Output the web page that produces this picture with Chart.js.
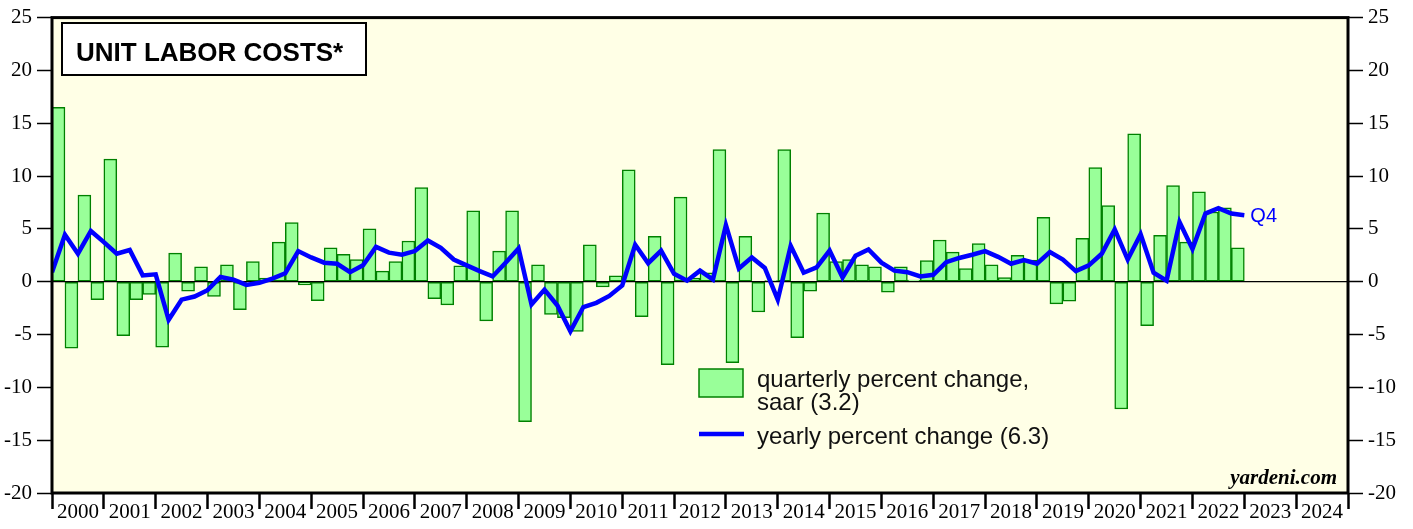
<!DOCTYPE html>
<html>
<head>
<meta charset="utf-8">
<script src="https://cdn.jsdelivr.net/npm/chart.js@4"></script>
<style>
  html, body { margin: 0; padding: 0; background: #fff; }
  #wrap { width: 1413px; height: 529px; }
</style>
</head>
<body>
<div id="wrap"><canvas id="ulc" width="1413" height="529"></canvas></div>
<script>
// year labels on the bottom axis (each year = 4 quarters)
const years = ['2000','2001','2002','2003','2004','2005','2006','2007','2008','2009','2010','2011','2012',
  '2013','2014','2015','2016','2017','2018','2019','2020','2021','2022','2023','2024'];

// quarterly percent change, saar: 2000Q1 .. 2022Q4
const quarterly = [
  16.5, -6.3, 8.2, -1.7,
  11.6, -5.1, -1.7, -1.2,
  -6.2, 2.7, -0.9, 1.4,
  -1.4, 1.6, -2.65, 1.9,
  0.35, 3.75, 5.6, -0.3,
  -1.8, 3.2, 2.6, 2.1,
  5.0, 1.0, 1.9, 3.85,
  8.9, -1.6, -2.2, 1.5,
  6.7, -3.7, 2.9, 6.7,
  -13.25, 1.6, -3.1, -3.4,
  -4.7, 3.5, -0.5, 0.55,
  10.6, -3.3, 4.3, -7.85,
  8.0, 0.35, 0.85, 12.5,
  -7.67, 4.3, -2.87, 0.1,
  12.5, -5.3, -0.9, 6.5,
  1.9, 2.1, 1.6, 1.4,
  -1.0, 1.4, 0.15, 2.0,
  3.95, 2.8, 1.25, 3.6,
  1.6, 0.4, 2.5, 2.05,
  6.1, -2.1, -1.85, 4.1,
  10.8, 7.2, -12.05, 14.0,
  -4.15, 4.4, 9.1, 3.75,
  8.5, 6.6, 7.0, 3.2
];

// yearly percent change, plotted at quarter ends: 1999Q4 .. 2022Q4
const yearly = [
  0.9,
  4.45, 2.65, 4.8, 3.75,
  2.65, 3.0, 0.6, 0.7,
  -3.6, -1.7, -1.4, -0.8,
  0.45, 0.2, -0.3, -0.1,
  0.3, 0.8, 2.9, 2.3,
  1.8, 1.7, 0.9, 1.55,
  3.3, 2.75, 2.55, 2.9,
  3.9, 3.2, 2.1, 1.55,
  1.0, 0.5, 1.8, 3.15,
  -2.15, -0.75, -2.25, -4.7,
  -2.4, -2.0, -1.35, -0.35,
  3.5, 1.75, 2.95, 0.75,
  0.1, 1.05, 0.2, 5.35,
  1.25, 2.3, 1.3, -1.7,
  3.4, 0.85, 1.35, 2.95,
  0.4, 2.45, 3.05, 1.8,
  1.05, 0.9, 0.5, 0.65,
  1.85, 2.25, 2.55, 2.9,
  2.35, 1.7, 2.05, 1.7,
  2.8, 2.1, 1.0, 1.55,
  2.65, 4.95, 2.1, 4.5,
  0.85, 0.1, 5.65, 3.1,
  6.45, 6.95, 6.45, 6.3
];

const barFill = '#99ff99';
const barLine = '#008000';
const lineBlue = '#0000ff';
const serif = 'Liberation Serif';
const sans = 'Liberation Sans';

// tick positions: year boundaries (marks) and mid-years (labels)
const xTicks = [];
years.forEach((y, i) => { xTicks.push(i * 4, i * 4 + 2); });
xTicks.push(years.length * 4);

const decor = {
  id: 'decor',
  beforeDraw(chart) {
    const { ctx, chartArea: a } = chart;
    ctx.save();
    ctx.fillStyle = '#ffffe6';
    ctx.fillRect(a.left, a.top, a.right - a.left, a.bottom - a.top);
    ctx.restore();
  },
  afterDatasetDraw(chart, args) {
    if (args.index !== 0) return;
    const { ctx, chartArea: a } = chart;
    const y0 = chart.scales.y.getPixelForValue(0);
    ctx.save();
    ctx.strokeStyle = '#000';
    ctx.lineWidth = 1.3;
    ctx.beginPath();
    ctx.moveTo(a.left, y0);
    ctx.lineTo(a.right, y0);
    ctx.stroke();
    ctx.restore();
  },
  afterDraw(chart) {
    const { ctx, chartArea: a } = chart;
    ctx.save();
    // frame
    ctx.strokeStyle = '#000';
    ctx.lineWidth = 3;
    ctx.strokeRect(a.left, a.top, a.right - a.left, a.bottom - a.top);

    // title box
    ctx.fillStyle = '#fff';
    ctx.fillRect(62, 23, 304, 52);
    ctx.lineWidth = 2;
    ctx.strokeRect(62, 23, 304, 52);
    ctx.fillStyle = '#000';
    ctx.font = 'bold 26px ' + sans;
    ctx.textBaseline = 'alphabetic';
    ctx.textAlign = 'left';
    ctx.fillText('UNIT LABOR COSTS*', 76, 61);

    // legend
    ctx.fillStyle = barFill;
    ctx.fillRect(699, 369, 44, 28);
    ctx.strokeStyle = barLine;
    ctx.lineWidth = 1.5;
    ctx.strokeRect(699, 369, 44, 28);
    ctx.strokeStyle = lineBlue;
    ctx.lineWidth = 4.5;
    ctx.beginPath();
    ctx.moveTo(699, 434);
    ctx.lineTo(744, 434);
    ctx.stroke();
    ctx.fillStyle = '#111';
    ctx.font = '24px ' + sans;
    ctx.fillText('quarterly percent change,', 757, 387);
    ctx.fillText('saar (3.2)', 757, 410);
    ctx.fillText('yearly percent change (6.3)', 757, 444);

    // last-point tag
    const xs = chart.scales.x, ys = chart.scales.y;
    ctx.fillStyle = lineBlue;
    ctx.font = '20px ' + sans;
    ctx.textBaseline = 'middle';
    ctx.fillText('Q4', xs.getPixelForValue(yearly.length - 1) + 6, ys.getPixelForValue(yearly[yearly.length - 1]) + 1);

    // source
    ctx.fillStyle = '#000';
    ctx.font = 'bold italic 21px ' + serif;
    ctx.textAlign = 'right';
    ctx.textBaseline = 'alphabetic';
    ctx.fillText('yardeni.com', 1337, 484);
    ctx.restore();
  }
};

const tickFont = { family: serif, size: 21 };

new Chart(document.getElementById('ulc'), {
  data: {
    datasets: [
      {
        type: 'bar',
        label: 'quarterly percent change, saar',
        data: quarterly.map((v, i) => ({ x: i + 0.5, y: v })),
        backgroundColor: barFill,
        borderColor: barLine,
        borderWidth: 1.5,
        borderSkipped: false,
        barPercentage: 1,
        categoryPercentage: 1,
        order: 2
      },
      {
        type: 'line',
        label: 'yearly percent change',
        data: yearly.map((v, i) => ({ x: i, y: v })),
        borderColor: lineBlue,
        borderWidth: 4.5,
        pointRadius: 0,
        tension: 0,
        order: 1
      }
    ]
  },
  options: {
    responsive: false,
    animation: false,
    layout: { padding: { top: 13, left: 0, right: 0, bottom: 0 } },
    plugins: { legend: { display: false }, tooltip: { enabled: false } },
    scales: {
      x: {
        type: 'linear',
        min: 0,
        max: 100,
        offset: false,
        afterBuildTicks: axis => { axis.ticks = xTicks.map(v => ({ value: v })); },
        afterFit: s => { s.height = 36; },
        ticks: {
          autoSkip: false,
          maxRotation: 0,
          padding: -9,
          color: '#000',
          font: tickFont,
          callback: v => (v % 4 === 2 ? years[(v - 2) / 4] : '')
        },
        grid: {
          offset: false,
          drawOnChartArea: false,
          tickLength: 16,
          tickWidth: 2.5,
          tickColor: c => (c.tick && c.tick.value % 4 === 0 ? '#000' : 'rgba(0,0,0,0)')
        },
        border: { display: false }
      },
      y: {
        position: 'left',
        min: -20,
        max: 25,
        afterFit: s => { s.width = 52; },
        ticks: { stepSize: 5, padding: 5, color: '#000', font: tickFont },
        grid: { drawOnChartArea: false, tickLength: 15, tickColor: '#000', tickWidth: 1.5 },
        border: { display: false }
      },
      y2: {
        position: 'right',
        min: -20,
        max: 25,
        afterFit: s => { s.width = 65; },
        ticks: { stepSize: 5, padding: 5, color: '#000', font: tickFont },
        grid: { drawOnChartArea: false, tickLength: 15, tickColor: '#000', tickWidth: 1.5 },
        border: { display: false }
      }
    }
  },
  plugins: [decor]
});
</script>
</body>
</html>
